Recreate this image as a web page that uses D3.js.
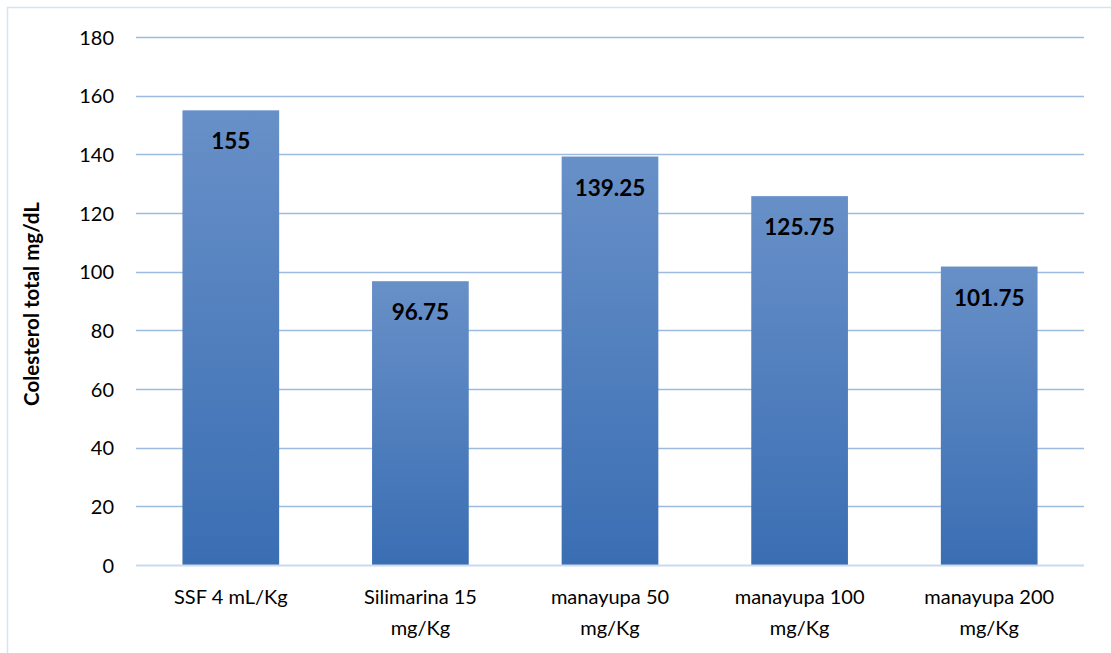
<!DOCTYPE html>
<html>
<head>
<meta charset="utf-8">
<script src="https://cdn.jsdelivr.net/npm/d3@7"></script>
<style>
  html, body { margin: 0; padding: 0; background: #fff; }
  svg { display: block; }
</style>
</head>
<body>
<svg id="chart" width="1111" height="653"></svg>
<script>
const categories = [
  ["SSF 4 mL/Kg"],
  ["Silimarina 15", "mg/Kg"],
  ["manayupa 50", "mg/Kg"],
  ["manayupa 100", "mg/Kg"],
  ["manayupa 200", "mg/Kg"]
];
const values = [155, 96.75, 139.25, 125.75, 101.75];
const valueLabels = ["155", "96.75", "139.25", "125.75", "101.75"];
const yTicks = [0, 20, 40, 60, 80, 100, 120, 140, 160, 180];
const yTitle = "Colesterol total mg/dL";

const font = "Lato, 'Open Sans', sans-serif";
const svg = d3.select("#chart");
const W = 1111, H = 653;
const plot = { left: 136, right: 1084, top: 37, bottom: 565 };

// outer chart border
svg.append("rect")
  .attr("x", 7.5).attr("y", 7.5)
  .attr("width", W + 10).attr("height", H + 10)
  .attr("fill", "#fff").attr("stroke", "#d5e3f2").attr("stroke-width", 1.5);

const keys = categories.map((c, i) => i);
const x = d3.scaleBand().domain(keys).range([plot.left, plot.right]).paddingInner(0.49).paddingOuter(0.245);
const y = d3.scaleLinear().domain([0, 180]).range([plot.bottom, plot.top]);

const defs = svg.append("defs");
const grad = defs.append("linearGradient")
  .attr("id", "barGrad").attr("x1", 0).attr("y1", 0).attr("x2", 0).attr("y2", 1);
grad.append("stop").attr("offset", "0%").attr("stop-color", "#6890c8");
grad.append("stop").attr("offset", "100%").attr("stop-color", "#3a6eb3");

// gridlines
svg.append("g").selectAll("line")
  .data(yTicks.filter(t => t > 0))
  .join("line")
  .attr("x1", plot.left).attr("x2", plot.right)
  .attr("y1", d => Math.round(y(d)) + 0.5).attr("y2", d => Math.round(y(d)) + 0.5)
  .attr("stroke", "#9dbadf").attr("stroke-width", 1.6);

// bars
svg.append("g").selectAll("rect")
  .data(values)
  .join("rect")
  .attr("x", (d, i) => x(i))
  .attr("width", x.bandwidth())
  .attr("y", d => y(d))
  .attr("height", d => y(0) - y(d))
  .attr("fill", "url(#barGrad)");

// baseline
svg.append("line")
  .attr("x1", plot.left).attr("x2", plot.right)
  .attr("y1", y(0) + 0.5).attr("y2", y(0) + 0.5)
  .attr("stroke", "#c9dbef").attr("stroke-width", 2);

// y axis tick labels
const yAxis = d3.axisLeft(y).tickValues(yTicks).tickSize(0).tickPadding(0);
const ya = svg.append("g").attr("transform", `translate(${plot.left - 22},0)`).call(yAxis);
ya.select(".domain").remove();
ya.selectAll("text")
  .attr("font-family", font).attr("font-size", 20).attr("fill", "#000")
  .attr("dy", "0.35em");

// x axis category labels
const xAxis = d3.axisBottom(x).tickSize(0).tickFormat(() => "");
const xa = svg.append("g").attr("transform", `translate(0,${plot.bottom})`).call(xAxis);
xa.select(".domain").remove();
xa.selectAll(".tick").each(function(d) {
  const t = d3.select(this).append("text")
    .attr("text-anchor", "middle")
    .attr("font-family", font).attr("font-size", 20).attr("fill", "#000")
    .attr("y", 39);
  categories[d].forEach((line, j) => {
    t.append("tspan").attr("x", 0).attr("dy", j === 0 ? 0 : 31).text(line);
  });
});

// value labels
svg.append("g").selectAll("text")
  .data(values)
  .join("text")
  .attr("x", (d, i) => x(i) + x.bandwidth() / 2)
  .attr("y", d => y(d) + 39)
  .attr("text-anchor", "middle")
  .attr("font-family", font).attr("font-size", 22.5).attr("font-weight", "bold")
  .attr("fill", "#000")
  .text((d, i) => valueLabels[i]);

// y axis title
svg.append("text")
  .attr("transform", `translate(39,${(plot.top + plot.bottom) / 2 + 3}) rotate(-90)`)
  .attr("text-anchor", "middle")
  .attr("font-family", font).attr("font-size", 20.5).attr("font-weight", "bold")
  .text(yTitle);
</script>
</body>
</html>
